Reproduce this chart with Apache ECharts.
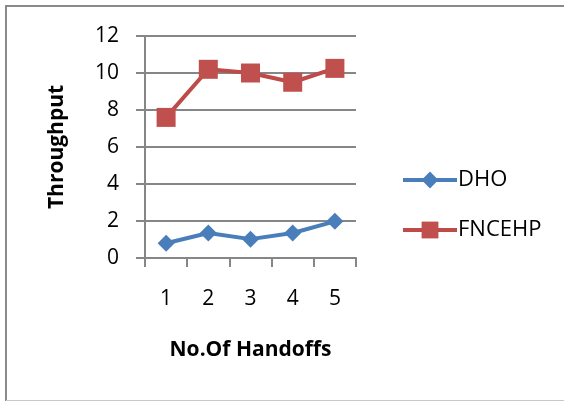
<!DOCTYPE html>
<html><head><meta charset="utf-8">
<script src="https://cdn.jsdelivr.net/npm/echarts@6/dist/echarts.min.js"></script>
<style>html,body{margin:0;padding:0;background:#fff;}#c{width:564px;height:401px;}</style>
</head><body><div id="c"></div>
<script>
var categories = ['1','2','3','4','5'];
var dho = [0.8, 1.35, 1.02, 1.35, 1.98];
var fncehp = [7.6, 10.2, 10.0, 9.5, 10.25];
var seriesNames = ['DHO','FNCEHP'];
var yTitle = 'Throughput';
var xTitle = 'No.Of Handoffs';

var FONT = 'Open Sans';
var chart = echarts.init(document.getElementById('c'), null, {renderer:'canvas'});
chart.setOption({
  animation:false,
  backgroundColor:'#fff',
  grid:{left:145,right:208,top:36,bottom:143},
  legend:{
    orient:'vertical', left:396, top:164, itemGap:28,
    itemWidth:54, itemHeight:21,
    lineStyle:{width:4},
    textStyle:{fontFamily:FONT,fontSize:22,color:'#000',padding:[0,0,0,-4]},
    data:seriesNames
  },
  xAxis:{
    type:'category', data:categories, boundaryGap:true,
    axisLine:{lineStyle:{color:'#868686',width:2}},
    axisTick:{show:true,length:9,lineStyle:{color:'#868686',width:2}},
    axisLabel:{fontFamily:FONT,fontSize:21,color:'#000',margin:31},
    name:xTitle, nameLocation:'middle', nameGap:82,
    nameTextStyle:{fontFamily:FONT,fontSize:21,fontWeight:'bold',color:'#000'}
  },
  yAxis:{
    type:'value', min:0, max:12, interval:2,
    axisLine:{show:true,lineStyle:{color:'#868686',width:2}},
    axisTick:{show:true,length:9,lineStyle:{color:'#868686',width:2}},
    splitLine:{lineStyle:{color:'#868686',width:2}},
    axisLabel:{fontFamily:FONT,fontSize:21,color:'#000',margin:26},
    name:yTitle, nameLocation:'middle', nameGap:77, nameRotate:90,
    nameTextStyle:{fontFamily:FONT,fontSize:21,fontWeight:'bold',color:'#000'}
  },
  series:[
    {name:seriesNames[0],type:'line',data:dho,symbol:'diamond',symbolSize:17,
     lineStyle:{color:'#4A7EBB',width:4},itemStyle:{color:'#4A7EBB'}},
    {name:seriesNames[1],type:'line',data:fncehp,symbol:'rect',symbolSize:19,
     lineStyle:{color:'#BE4B48',width:4},itemStyle:{color:'#C0504D'}}
  ],
  graphic:[
    {type:'line',shape:{x1:5,y1:6,x2:564,y2:6},style:{stroke:'#8a8a8a',lineWidth:2}},
    {type:'line',shape:{x1:6,y1:5,x2:6,y2:401},style:{stroke:'#8a8a8a',lineWidth:2}},
    {type:'line',shape:{x1:6,y1:400.5,x2:564,y2:400.5},style:{stroke:'#c8c8c8',lineWidth:1}}
  ]
});
</script></body></html>
